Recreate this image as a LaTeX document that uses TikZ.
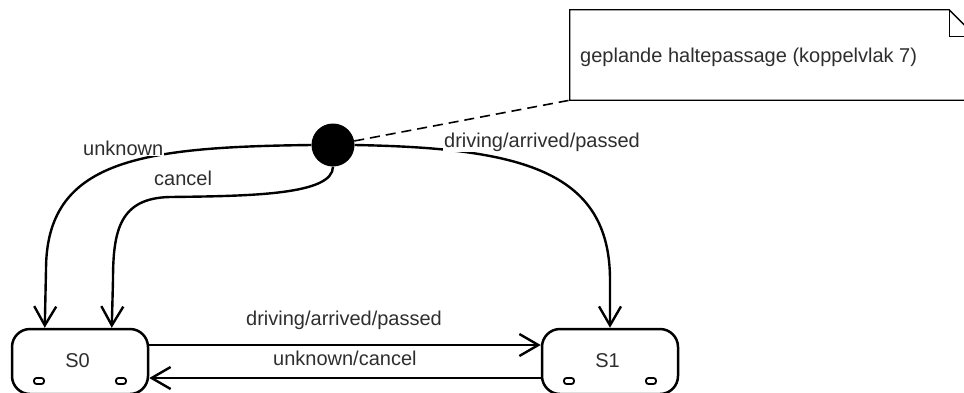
\documentclass[tikz,border=0pt]{standalone}
\usepackage{fontspec}
\setmainfont{Liberation Sans}
\usetikzlibrary{arrows.meta,calc}
\begin{document}
\begin{tikzpicture}[x=1pt,y=-1pt,
  font=\fontsize{20}{24}\selectfont,
  txt/.style={text=black!82, inner sep=1pt, anchor=base west},
  lbl/.style={txt, fill=white},
  statebox/.style={draw=black, line width=2.5pt, rounded corners=18pt, minimum width=136pt, minimum height=65pt, inner sep=0pt, fill=white},
  arr/.style={line width=2.4pt, -{Straight Barb[length=19pt,width=22pt]}},
  ovalst/.style={draw=black, line width=1.8pt},
  notebox/.style={minimum width=406pt, minimum height=90pt, inner sep=0pt},
  notelink/.style={line width=1.6pt, dash pattern=on 10pt off 6pt}
]
\useasboundingbox (0,0) rectangle (964,392);
\clip (0,0) rectangle (964,392);

% states
\node[statebox] (S0) at (80,361.5) {};
\node[statebox] (S1) at (610,361.5) {};
\node[txt, anchor=base] (S0t) at (77.5,367) {S0};
\node[txt, anchor=base] (S1t) at (607.5,367) {S1};
\foreach \s in {S0,S1}{
  \draw[ovalst, rounded corners=2.5pt] ($(\s.center)+(-46,16.5)$) rectangle ($(\s.center)+(-36,22.5)$);
  \draw[ovalst, rounded corners=2.5pt] ($(\s.center)+(36,16.5)$) rectangle ($(\s.center)+(46,22.5)$);
}

% initial pseudo state
\node[circle, fill=black, minimum size=43pt, inner sep=0pt] (init) at (333,145) {};

% note
\node[notebox] (note) at (773,55) {};
\draw[line width=1.3pt, fill=white] (note.north west) -- ($(note.north east)+(-27,0)$) -- ($(note.north east)+(0,27)$) -- (note.south east) -- (note.south west) -- cycle;
\draw[line width=1.3pt] ($(note.north east)+(-27,0)$) -- ($(note.north east)+(-27,27)$) -- ($(note.north east)+(0,27)$);
\node[txt] (notetxt) at (579,62) {geplande haltepassage (koppelvlak 7)};
\draw[notelink] (init) -- (note.south west);

% transitions from initial state
\draw[arr] (init.west) .. controls (140,147) and (46,160) .. (46,270) -- ($(S0.north west)+(34,0)$);
\draw[arr] (init.south) .. controls (333,195) and (250,196) .. (170,197) .. controls (120,198) and (113,230) .. (113,280) -- ($(S0.north west)+(101,0)$);
\draw[arr] (init.east) .. controls (520,148) and (610,170) .. (610,280) -- (S1.north);

\node[lbl] (lu) at (82,155) {unknown};
\node[lbl] (lc) at (153,185) {cancel};
\node[lbl] (ld) at (443,147) {driving/arrived/passed};

% transitions between states
\draw[arr] ($(S0.east)+(0,-16.5)$) -- ($(S1.west)+(0,-16.5)$);
\draw[arr] ($(S1.west)+(0,16.5)$) -- ($(S0.east)+(0,16.5)$);
\node[txt] (ld2) at (245,325) {driving/arrived/passed};
\node[txt] (luc) at (272,365) {unknown/cancel};
\end{tikzpicture}
\end{document}
